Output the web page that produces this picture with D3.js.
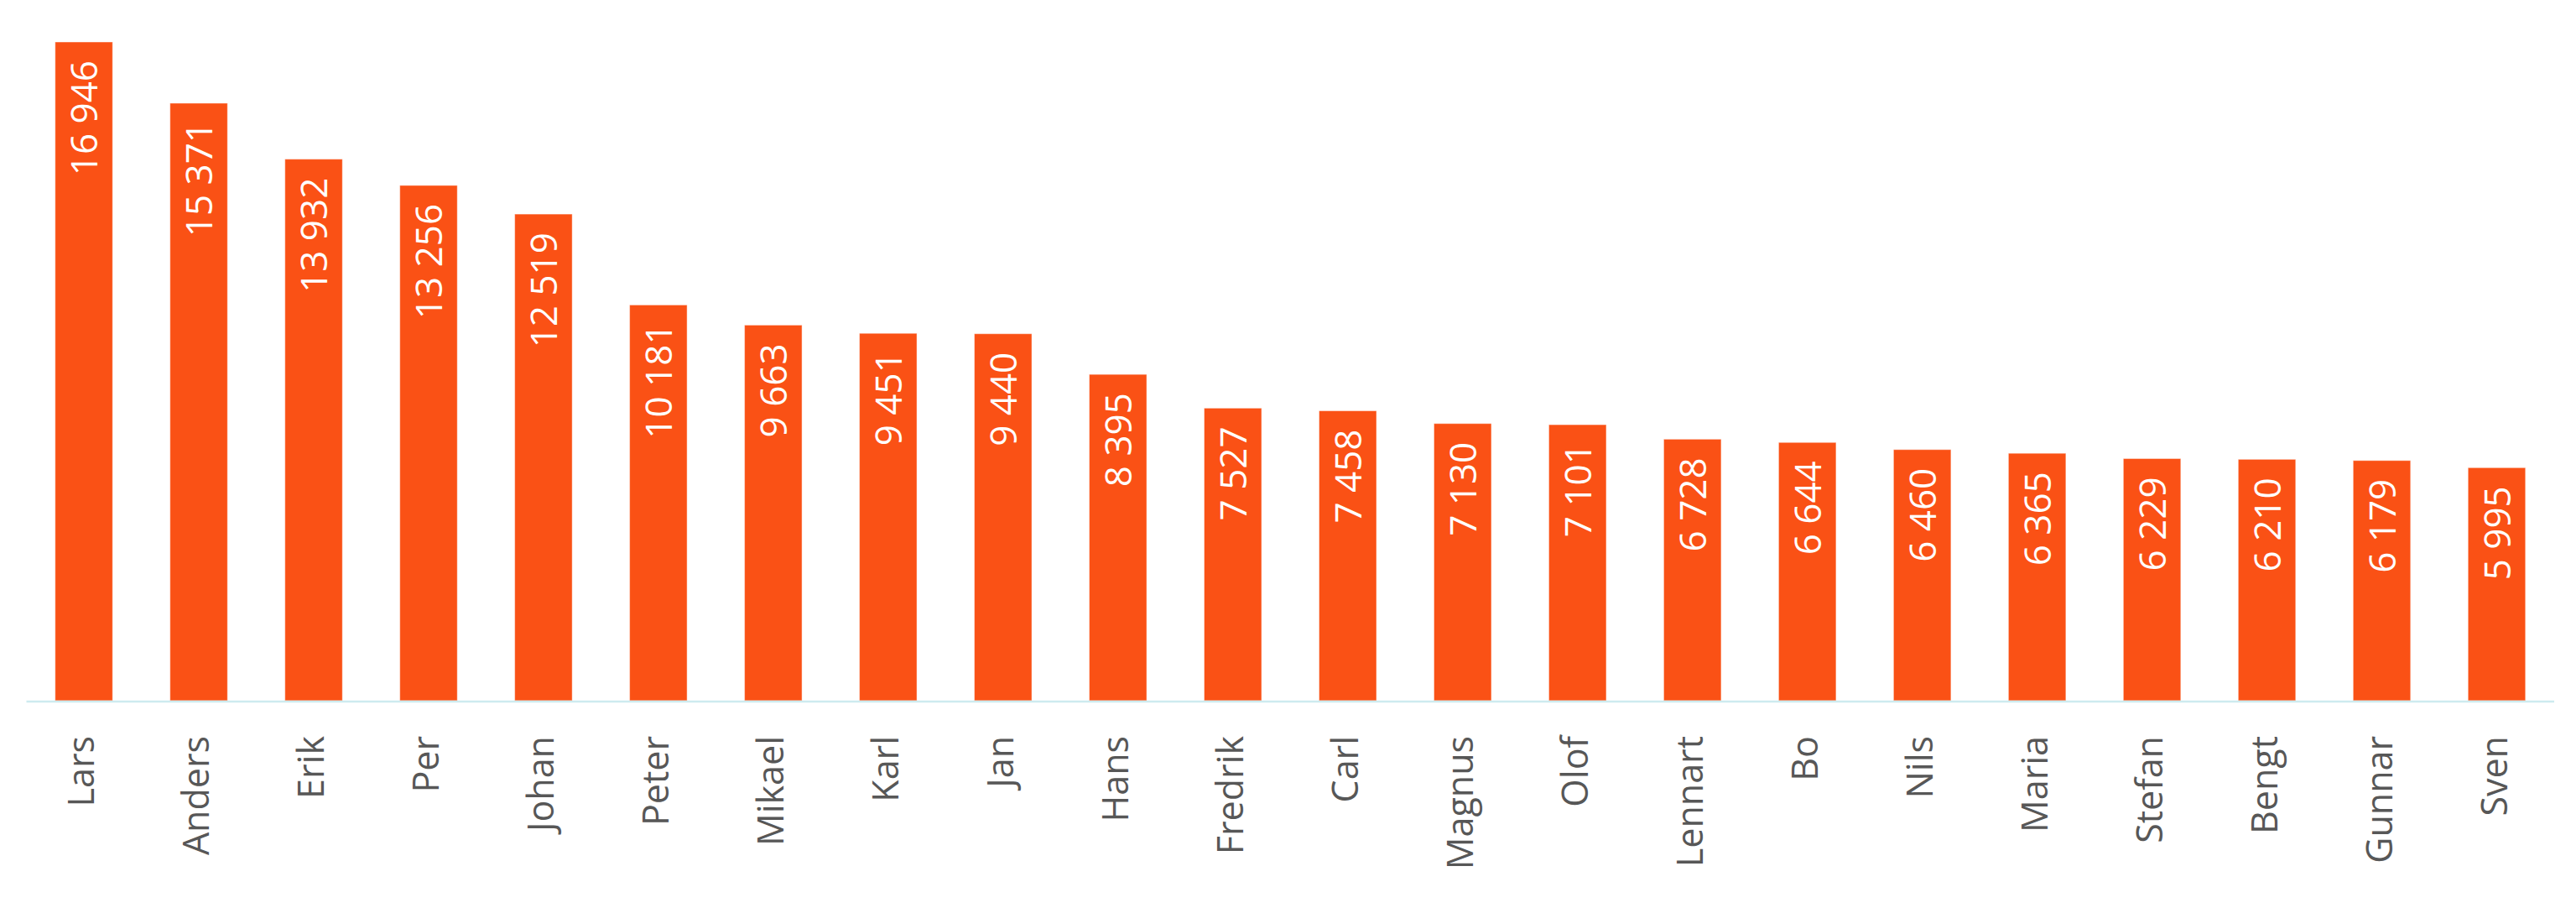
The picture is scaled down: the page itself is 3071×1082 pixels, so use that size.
<!DOCTYPE html>
<html>
<head>
<meta charset="utf-8">
<script src="https://cdn.jsdelivr.net/npm/d3@7"></script>
<style>
  html, body { margin: 0; padding: 0; background: #ffffff; }
  svg { display: block; }
</style>
</head>
<body>
<svg id="chart" width="3071" height="1082"></svg>
<script>
const categories = ["Lars","Anders","Erik","Per","Johan","Peter","Mikael","Karl","Jan","Hans","Fredrik","Carl","Magnus","Olof","Lennart","Bo","Nils","Maria","Stefan","Bengt","Gunnar","Sven"];
const values = [16946,15371,13932,13256,12519,10181,9663,9451,9440,8395,7527,7458,7130,7101,6728,6644,6460,6365,6229,6210,6179,5995];
const yDomain = [0, 18000];

const W = 3071, H = 1082;
const plot = { left: 31.5, right: 3045, top: 1.2, bottom: 835 };

const svg = d3.select("#chart");

const x = d3.scaleBand()
  .domain(categories)
  .range([plot.left, plot.right])
  .paddingInner(0.5)
  .paddingOuter(0.25);

const y = d3.scaleLinear()
  .domain(yDomain)
  .range([plot.bottom, plot.top]);

const data = categories.map((c, i) => ({ name: c, value: values[i] }));

const fmt = v => d3.format(",")(v).replace(/,/g, " ");

// bars
svg.append("g")
  .selectAll("rect")
  .data(data)
  .join("rect")
  .attr("x", d => x(d.name))
  .attr("y", d => y(d.value))
  .attr("width", x.bandwidth())
  .attr("height", d => y(0) - y(d.value))
  .attr("fill", "#fa5115")
  .attr("stroke", "rgba(255,255,255,0.45)")
  .attr("stroke-width", 1);

// x axis line
svg.append("line")
  .attr("x1", plot.left)
  .attr("x2", plot.right)
  .attr("y1", 836)
  .attr("y2", 836)
  .attr("stroke", "#cdebef")
  .attr("stroke-width", 2.5);

// value labels
svg.append("g")
  .selectAll("text")
  .data(data)
  .join("text")
  .attr("transform", d => `translate(${x(d.name) + x.bandwidth() / 2 + 16},${y(d.value) + 22}) rotate(-90)`)
  .attr("text-anchor", "end")
  .attr("font-family", "'Open Sans', sans-serif")
  .attr("font-size", 44)
  .attr("fill", "#ffffff")
  .text(d => fmt(d.value));

// category labels
svg.append("g")
  .selectAll("text")
  .data(data)
  .join("text")
  .attr("transform", d => `translate(${x(d.name) + x.bandwidth() / 2 + 12},877) rotate(-90)`)
  .attr("text-anchor", "end")
  .attr("font-family", "'Open Sans', sans-serif")
  .attr("font-size", 43)
  .attr("fill", "#575757")
  .text(d => d.name);
</script>
</body>
</html>
